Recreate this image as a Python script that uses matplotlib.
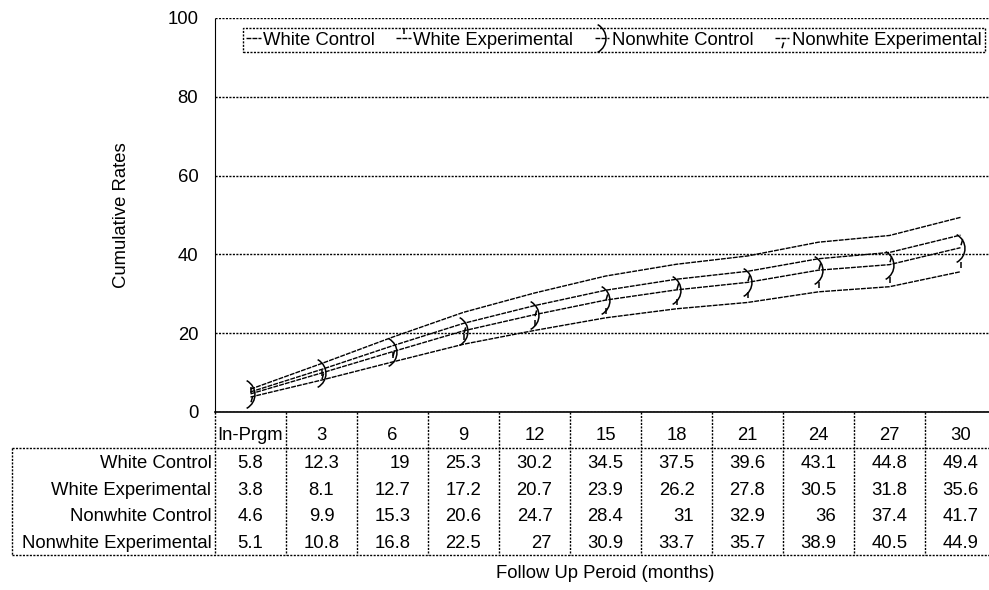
import matplotlib
matplotlib.use("Agg")
import matplotlib.pyplot as plt
from matplotlib.path import Path
from matplotlib.transforms import blended_transform_factory

plt.rcParams['font.family'] = ['Liberation Sans', 'DejaVu Sans']
plt.rcParams['font.size'] = 13.3

categories = ["In-Prgm", "3", "6", "9", "12", "15", "18", "21", "24", "27", "30"]
series_names = ["White Control", "White Experimental", "Nonwhite Control", "Nonwhite Experimental"]
white_control = [5.8, 12.3, 19, 25.3, 30.2, 34.5, 37.5, 39.6, 43.1, 44.8, 49.4]
white_experimental = [3.8, 8.1, 12.7, 17.2, 20.7, 23.9, 26.2, 27.8, 30.5, 31.8, 35.6]
nonwhite_control = [4.6, 9.9, 15.3, 20.6, 24.7, 28.4, 31, 32.9, 36, 37.4, 41.7]
nonwhite_experimental = [5.1, 10.8, 16.8, 22.5, 27, 30.9, 33.7, 35.7, 38.9, 40.5, 44.9]
series = [white_control, white_experimental, nonwhite_control, nonwhite_experimental]

# odd little marker shapes from the old excel export
tick_up = Path([(0, 0.4), (0, 1.0)])
paren = Path([(-0.35, 1), (0.45, 0.55), (0.45, -0.55), (-0.35, -1)],
             [Path.MOVETO, Path.CURVE4, Path.CURVE4, Path.CURVE4])
comma_down = Path([(0.12, -0.4), (-0.05, -1.0)])
markers = [None, tick_up, paren, comma_down]
msizes = [0, 14, 20, 14]

dotted = (0, (1.5, 1))
dashed = (0, (3.5, 0.8))

W, H = 989, 590
fig = plt.figure(figsize=(W / 100, H / 100), dpi=100)
# plot area in pixels: x 215..996, y 18..412
ax = fig.add_axes([215 / W, 1 - 412 / H, (996 - 215) / W, 394 / H])

x = list(range(len(categories)))
for name, vals, mk, ms in zip(series_names, series, markers, msizes):
    ax.plot(x, vals, color='black', lw=1, ls=dashed, marker=mk, ms=ms,
            mew=1.1, mfc='none', mec='black', label=name)

ax.set_xlim(-0.5, len(categories) - 0.5)
ax.set_ylim(0, 100)
ax.set_yticks(range(0, 101, 20))
ax.set_xticks([])
ax.tick_params(axis='y', length=0, pad=12)
ax.yaxis.grid(True, color='black', lw=1, ls=dotted)
ax.set_axisbelow(True)
for s in ['top', 'right']:
    ax.spines[s].set_visible(False)
ax.spines['left'].set_linestyle(dotted)
ax.spines['bottom'].set_linewidth(1.2)

# data table below the axis
tr = blended_transform_factory(ax.transData, ax.transAxes)
axh = 394.0
colw = 71.0
y_head = -36 / axh
row_h = 26.75 / axh
y_bot = y_head - 4 * row_h
x_left = -0.5 - (215 - 12) / colw
x_right = len(categories) - 0.5

line_kw = dict(color='black', lw=1, ls=dotted, transform=tr, clip_on=False)
ax.plot([x_left, x_right], [y_head, y_head], **line_kw)
ax.plot([x_left, x_right], [y_bot, y_bot], **line_kw)
ax.plot([x_left, x_left], [y_head, y_bot], **line_kw)
ax.plot([-0.5, -0.5], [0, y_bot], **line_kw)
for i in range(len(categories)):
    ax.plot([i + 0.5, i + 0.5], [0, y_bot], **line_kw)

for i, c in enumerate(categories):
    ax.text(i, -24 / axh, c, ha='center', va='center', transform=tr)

for r, (name, vals) in enumerate(zip(series_names, series)):
    yc = y_head - (r + 0.5) * row_h - 2 / axh
    ax.text(-0.55, yc, name, ha='right', va='center', transform=tr)
    for i, v in enumerate(vals):
        if float(v).is_integer():
            ax.text(i + 0.1, yc, str(int(v)), ha='center', va='center', transform=tr)
        else:
            ax.text(i, yc, str(v), ha='center', va='center', transform=tr)

fig.text(121 / W, 1 - 215 / H, "Cumulative Rates", rotation=90, ha='center', va='center')
fig.text(605 / W, 1 - 574 / H, "Follow Up Peroid (months)", ha='center', va='center')

leg = ax.legend(ncol=4, loc='upper right', bbox_to_anchor=(985 / W, 1 - 28 / H),
                bbox_transform=fig.transFigure, fancybox=False, framealpha=1,
                edgecolor='black', handlelength=0.8, handletextpad=0.12,
                columnspacing=1.15, borderpad=0.2, borderaxespad=0, numpoints=1)
leg.get_frame().set_linestyle(dotted)
leg.get_frame().set_linewidth(1)

fig.savefig('out.png', dpi=100)
